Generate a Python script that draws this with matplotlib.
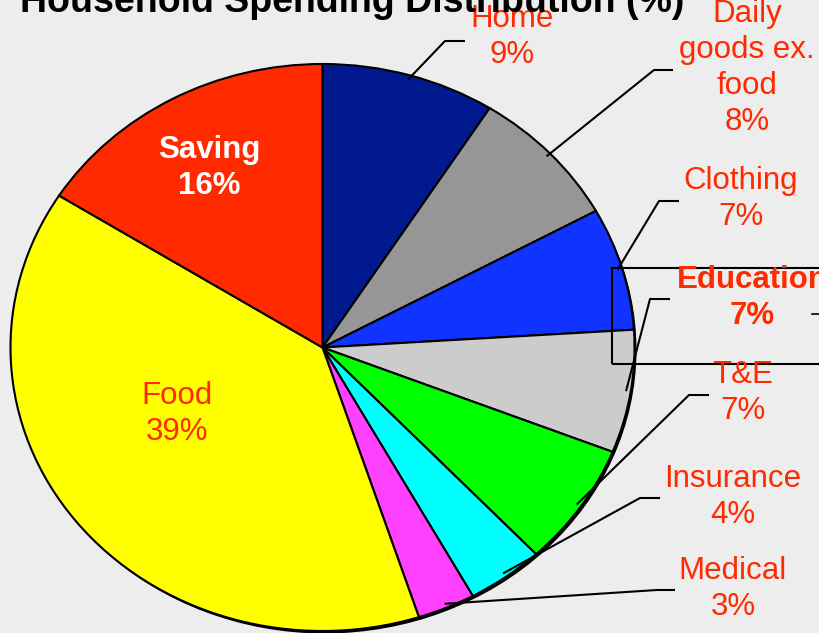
import matplotlib
matplotlib.use('Agg')
import matplotlib.pyplot as plt
from matplotlib.patches import Ellipse, Rectangle
import numpy as np

# ---- data ----
categories = ["Home", "Daily\ngoods ex.\nfood", "Clothing", "Education", "T&E",
              "Insurance", "Medical", "Food", "Saving"]
shares = [9, 8, 7, 7, 7, 4, 3, 39, 16]
colors = ["#00198F", "#969696", "#1033FF", "#CCCCCC", "#00FF00",
          "#00FFFF", "#FF40FF", "#FFFF00", "#FF2A00"]
title = "Household Spending Distribution (%)"

# ---- layout (pixels from top-left) ----
W, H = 820, 633
CX, CY, RX, RY = 322.5, 347.5, 312.0, 283.5
label_pos = {            # text centre
    "Home": (512, 37), "Daily\ngoods ex.\nfood": (747, 68), "Clothing": (741, 199),
    "Education": (752, 298), "T&E": (743, 393), "Insurance": (733, 497),
    "Medical": (733, 589), "Food": (177, 414), "Saving": (209, 168),
}
elbows = {               # (horizontal start x, elbow x, y)
    "Home": (465, 445, 41), "Daily\ngoods ex.\nfood": (673, 654, 70),
    "Clothing": (679, 659, 201), "Education": (670, 650, 299),
    "T&E": (709, 689, 395), "Insurance": (660, 640, 498), "Medical": (675, 657, 590),
}
LABEL_RED = "#FF2A00"
FS = 22.5
LS = 1.26

plt.rcParams['font.family'] = ['Liberation Sans', 'DejaVu Sans']
fig = plt.figure(figsize=(W / 100, H / 100), dpi=100, facecolor='#EDEDED')
ax = fig.add_axes([(CX - RX) / W, (H - (CY + RY)) / H, 2 * RX / W, 2 * RY / H])
ax.set_facecolor('none')

wedges, _ = ax.pie(shares, colors=colors, startangle=90, counterclock=False, radius=1.0,
                   wedgeprops=dict(edgecolor='black', linewidth=1.5, zorder=2))
ax.set_aspect('auto')
ax.set_xlim(-1, 1)
ax.set_ylim(-1, 1)
ax.axis('off')

# subtle shadow rim
ax.add_patch(Ellipse((2.0 / RX, -2.5 / RY), 2, 2, facecolor='black',
                     edgecolor='none', zorder=1, clip_on=False))


def px2d(px, py):
    return ((px - CX) / RX, (CY - py) / RY)


for cat, pct, w in zip(categories, shares, wedges):
    txt = f"{cat}\n{pct}%"
    x, y = px2d(*label_pos[cat])
    if cat == "Saving":
        ax.text(x, y, txt, ha='center', va='center', fontsize=FS, fontweight='bold',
                color='white', linespacing=LS, zorder=5)
    elif cat == "Food":
        ax.text(x, y, txt, ha='center', va='center', fontsize=FS,
                color=LABEL_RED, linespacing=LS, zorder=5)
    else:
        weight = 'bold' if cat == "Education" else 'normal'
        ax.text(x, y, txt, ha='center', va='center', fontsize=FS, fontweight=weight,
                color=LABEL_RED, linespacing=LS, zorder=5, clip_on=False)
        hx, ex, ey = elbows[cat]
        th = np.deg2rad((w.theta1 + w.theta2) / 2)
        rr = 0.985
        rx_, ry_ = rr * np.cos(th), rr * np.sin(th)
        p1 = px2d(hx, ey)
        p2 = px2d(ex, ey)
        ax.plot([p1[0], p2[0], rx_], [p1[1], p2[1], ry_], color='black', lw=1.5,
                clip_on=False, zorder=4, solid_capstyle='butt')

# Education highlight box
bx0, by0 = px2d(612, 364)
bx1, by1 = px2d(835, 268)
ax.add_patch(Rectangle((bx0, by0), bx1 - bx0, by1 - by0, fill=False,
                       edgecolor='black', lw=1.5, clip_on=False, zorder=4))
d0 = px2d(812, 314)
d1 = px2d(825, 314)
ax.plot([d0[0], d1[0]], [d0[1], d1[1]], color='black', lw=1.2, clip_on=False, zorder=4)

fig.text(20 / W, 1 - 12 / H, title, fontsize=27, fontweight='bold',
         ha='left', va='baseline', color='black')

fig.savefig('out.png', dpi=100, facecolor=fig.get_facecolor())
